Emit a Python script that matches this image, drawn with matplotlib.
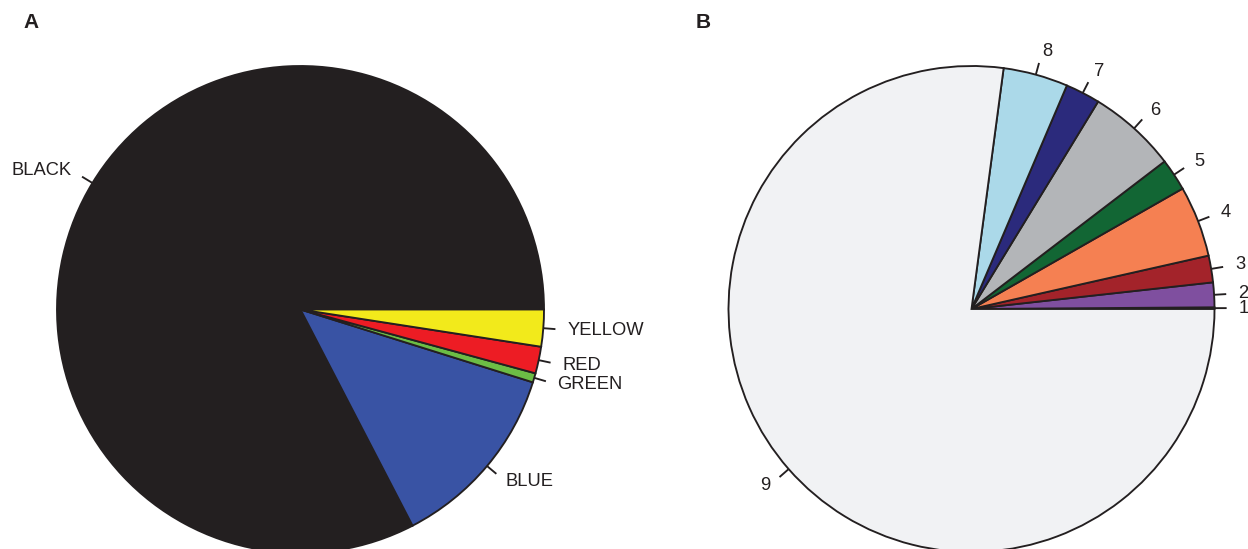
import numpy as np
import matplotlib
matplotlib.use('Agg')
import matplotlib.pyplot as plt

plt.rcParams['font.family'] = ['Liberation Sans', 'DejaVu Sans']

# panel A: slices counterclockwise from 3 o'clock (degrees of the circle)
a_labels = ['BLACK', 'BLUE', 'GREEN', 'RED', 'YELLOW']
a_values = [297.4, 45.2, 2.2, 6.4, 8.8]
a_colors = ['#231f20', '#3953a4', '#6cbd45', '#ed1c24', '#f2ea1b']

# panel B
b_labels = ['1', '2', '3', '4', '5', '6', '7', '8', '9']
b_values = [0.4, 5.9, 6.4, 17.0, 7.7, 21.2, 8.3, 15.5, 277.6]
b_colors = ['#c1272d', '#7f4f9f', '#a3232a', '#f58052', '#126634',
            '#b3b5b8', '#2b2a7c', '#abd9e9', '#f1f2f4']

W, H = 1248, 549
fig = plt.figure(figsize=(W/100, H/100), dpi=100)
ax = fig.add_axes([0, 0, 1, 1])

def rpie(ax, vals, labels, colors, center, r):
    ax.pie(vals, colors=colors, startangle=0, counterclock=True,
           center=center, radius=r,
           wedgeprops=dict(edgecolor='#231f20', linewidth=1.35))
    tot = float(sum(vals))
    cum = np.cumsum([0] + list(vals)) / tot * 2*np.pi
    for i, lab in enumerate(labels):
        th = (cum[i] + cum[i+1]) / 2
        c, s = np.cos(th), np.sin(th)
        ax.plot([center[0] + r*c, center[0] + 1.05*r*c],
                [center[1] + r*s, center[1] + 1.05*r*s],
                color='#231f20', lw=1.35, solid_capstyle='butt')
        ax.text(center[0] + 1.1*r*c, center[1] + 1.1*r*s, lab,
                ha='left' if c > 0 else 'right', va='center',
                fontsize=13.2, color='#231f20')

rpie(ax, a_values, a_labels, a_colors, (300.5, H - 309.5), 243.5)
rpie(ax, b_values, b_labels, b_colors, (971.5, H - 309), 243)

ax.text(23, H - 23, 'A', fontsize=15, fontweight='bold', va='center', color='#231f20')
ax.text(696, H - 22, 'B', fontsize=15, fontweight='bold', va='center', color='#231f20')

ax.set_xlim(0, W)
ax.set_ylim(0, H)
ax.set_aspect('auto')
ax.axis('off')

fig.savefig('out.png', dpi=100)
